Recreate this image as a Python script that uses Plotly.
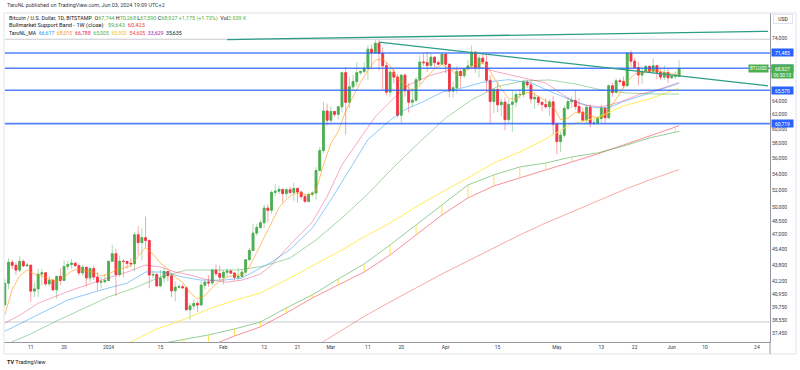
import math
import pandas as pd
import plotly.graph_objects as go

# ---------------- candle data (BTC/USD 1D, Bitstamp) ----------------
dates = pd.date_range("2023-12-04", "2024-06-03", freq="D").strftime("%Y-%m-%d").tolist()

open_ = [
    39970, 41990, 44080, 43770, 43290, 44170, 43720, 43790, 41240, 41450, 42890, 43020, 41940, 42280,
    41370, 42660, 42270, 43650, 43860, 43990, 43740, 43010, 43580, 42520, 43440, 42600, 42100, 42150,
    42270, 44180, 44960, 42850, 44180, 44160, 43970, 43930, 46970, 46130, 46660, 46350, 42800, 42850,
    41730, 42510, 43150, 42740, 41270, 41620, 41660, 41560, 39510, 39850, 40080, 39940, 41810, 42120,
    42030, 43300, 42940,
    42580, 43080, 43190, 42990, 42580, 42660, 43090, 44340, 45300, 47150, 47770, 48290, 49960, 49700,
    51800, 51940, 52160, 51660, 52120, 51780, 52280, 51840, 51300, 50740, 51570, 51730, 54480, 57050, 62500,
    61200, 62440, 62030, 63130, 68300, 63780, 66100, 66900, 68300, 68500, 69000, 72100, 71480, 73100,
    71400, 69400, 65300, 68390, 67600, 61900, 67900, 65500, 63800, 64100, 67200, 70000, 69900, 69450,
    70780, 69900, 69650,
    71300, 69650, 65460, 65960, 68500, 67840, 68900, 69360, 71620, 69150, 70630, 70000, 67100, 63900,
    65700, 63420, 63800, 61280, 63470, 63820, 64940, 64940, 66840, 66400, 64300, 64500, 63770, 63460,
    63120, 63840,
    60640, 58250, 59120, 62890, 63890, 64030, 63160, 62330, 61190, 63050, 60790, 60800, 61450, 62900,
    61550, 66260, 65240, 67030, 66930, 66280, 71450, 70140, 69120, 67930, 68520, 69290, 68510, 69400,
    68350, 67600, 68330,
    67500, 67750, 67744,
]
high = [
    42420, 44490, 44300, 44050, 44700, 44370, 44040, 43800, 42100, 43430, 43400, 43090, 42700, 42420,
    42750, 43480, 44280, 44230, 44390, 44000, 43960, 43800, 43600, 43690, 43800, 43130, 42600, 42900,
    44200, 45900, 45500, 44750, 44400, 44250, 44500, 47250, 47900, 47700, 48970, 46500, 43250, 43050,
    43300, 43550, 43200, 42900, 42180, 41880, 41890, 41650, 40120, 40500, 40300, 42200, 42200, 42800,
    43320, 43850, 43750,
    43250, 43480, 43380, 43100, 43530, 43350, 44370, 45580, 48200, 48150, 48580, 50350, 50400, 52050,
    52830, 52580, 52200, 52370, 52500, 52950, 52350, 52000, 51550, 51680, 51950, 54900, 57550, 63900, 63600,
    63200, 62450, 63250, 68500, 69200, 67650, 67950, 69950, 68600, 69950, 72800, 72900, 73650, 73780,
    72400, 70000, 68900, 68950, 68100, 68100, 68200, 66650, 65950, 67600, 71100, 71500, 71700, 71550,
    70950, 70300, 71350,
    71350, 69700, 66900, 69300, 68750, 69000, 70300, 72750, 71750, 71150, 71250, 71250, 67900, 65850,
    66850, 64350, 64500, 64100, 65450, 65350, 65700, 67200, 67200, 67100, 65300, 64800, 63900, 64400,
    64200, 64700,
    60850, 59600, 63300, 64500, 64650, 65500, 64400, 62990, 63300, 63450, 61450, 61800, 63450, 63100,
    66450, 66700, 67400, 67400, 67700, 71500, 71950, 70650, 70050, 69250, 69550, 69500, 70600, 69550,
    68900, 69500, 69000,
    67850, 68450, 70268,
]
low = [
    39700, 41430, 43400, 42800, 43080, 43580, 43590, 40230, 40680, 40700, 41800, 41700, 41700, 41250,
    40530, 41820, 42220, 43280, 43430, 43590, 42760, 42730, 41680, 42100, 42310, 41300, 41530, 41980,
    42200, 44150, 40750, 42630, 42600, 43430, 43600, 43200, 44800, 44300, 45600, 41500, 42450, 41700,
    41700, 42050, 42200, 40650, 40280, 41480, 41500, 39450, 38550, 39500, 39300, 39850, 41400, 41650,
    41800, 42700, 42300,
    41880, 42600, 42880, 42250, 42260, 42560, 42780, 44330, 45240, 46850, 47600, 47700, 48350, 49300,
    51320, 51600, 50650, 51200, 51600, 50800, 50600, 50950, 50550, 50600, 51300, 50900, 54450, 56700, 60400,
    60800, 61650, 61300, 62350, 59200, 62900, 65550, 66200, 67950, 68200, 67200, 68800, 71350, 68600,
    65600, 64800, 64600, 66600, 61550, 60800, 64600, 62300, 63100, 63800, 66500, 69300, 68400, 68950,
    69100, 69600, 69600,
    68200, 64550, 64500, 65100, 66000, 67450, 68800, 69050, 68250, 67550, 69600, 65300, 60800, 62200,
    62350, 61750, 59800, 60800, 59600, 63100, 64300, 64500, 65900, 63600, 62800, 63300, 62450, 62800,
    61800, 59200,
    56550, 56900, 58800, 62600, 62950, 62700, 62100, 60900, 60650, 60200, 60500, 60650, 60800, 60750,
    61350, 64600, 65100, 66600, 65850, 66100, 69150, 68900, 66300, 66600, 68500, 68250, 68250, 67250,
    67150, 67150, 66700,
    67300, 67300, 67590,
]
close = [
    41990, 44080, 43770, 43290, 44170, 43720, 43790, 41240, 41450, 42890, 43020, 41940, 42280, 41370,
    42660, 42270, 43650, 43860, 43990, 43740, 43010, 43580, 42520, 43440, 42600, 42100, 42150, 42270,
    44180, 44960, 42850, 44180, 44160, 43970, 43930, 46970, 46130, 46660, 46350, 42800, 42850, 41730,
    42510, 43150, 42740, 41270, 41620, 41660, 41560, 39510, 39850, 40080, 39940, 41810, 42120, 42030,
    43300, 42940, 42580,
    43080, 43190, 42990, 42580, 42660, 43090, 44340, 45300, 47150, 47770, 48290, 49960, 49700, 51800,
    51940, 52160, 51660, 52120, 51780, 52280, 51840, 51300, 50740, 51570, 51730, 54480, 57050, 62500, 61200,
    62440, 62030, 63130, 68300, 63780, 66100, 66900, 68300, 68500, 69000, 72100, 71480, 73100, 71400,
    69400, 65300, 68390, 67600, 61900, 67900, 65500, 63800, 64100, 67200, 70000, 69900, 69450, 70780,
    69900, 69650, 71300,
    69650, 65460, 65960, 68500, 67840, 68900, 69360, 71620, 69150, 70630, 70000, 67100, 63900, 65700,
    63420, 63800, 61280, 63470, 63820, 64940, 64940, 66840, 66400, 64300, 64500, 63770, 63460, 63120,
    63840, 60640,
    58250, 59120, 62890, 63890, 64030, 63160, 62330, 61190, 63050, 60790, 60800, 61450, 62900, 61550,
    66260, 65240, 67030, 66930, 66280, 71450, 70140, 69120, 67930, 68520, 69290, 68510, 69400, 68350,
    67600, 68330, 67500,
    67750, 67760, 68927,
]

# ---------------- indicator lines ----------------
ma_orange_dates = ["2023-12-04", "2023-12-06", "2023-12-08", "2023-12-10", "2023-12-12", "2023-12-14", "2023-12-16",
                   "2023-12-18", "2023-12-20", "2023-12-22", "2023-12-24", "2023-12-26", "2023-12-28", "2023-12-30",
                   "2024-01-01", "2024-01-03", "2024-01-05", "2024-01-07", "2024-01-09", "2024-01-11", "2024-01-13",
                   "2024-01-15", "2024-01-17", "2024-01-19", "2024-01-21", "2024-01-23", "2024-01-25", "2024-01-27",
                   "2024-01-29", "2024-01-31", "2024-02-02", "2024-02-04", "2024-02-06", "2024-02-08", "2024-02-10",
                   "2024-02-12", "2024-02-14", "2024-02-16", "2024-02-18", "2024-02-20", "2024-02-22", "2024-02-24",
                   "2024-02-26", "2024-02-28", "2024-03-01", "2024-03-03", "2024-03-05", "2024-03-07", "2024-03-09",
                   "2024-03-11", "2024-03-13", "2024-03-15", "2024-03-17", "2024-03-19", "2024-03-21", "2024-03-23",
                   "2024-03-25", "2024-03-27", "2024-03-29", "2024-03-31", "2024-04-02", "2024-04-04", "2024-04-06",
                   "2024-04-08", "2024-04-10", "2024-04-12", "2024-04-14", "2024-04-16", "2024-04-18", "2024-04-20",
                   "2024-04-22", "2024-04-24", "2024-04-26", "2024-04-28", "2024-04-30", "2024-05-02", "2024-05-04",
                   "2024-05-06", "2024-05-08", "2024-05-10", "2024-05-12", "2024-05-14", "2024-05-16", "2024-05-18",
                   "2024-05-20", "2024-05-22", "2024-05-24", "2024-05-26", "2024-05-28", "2024-05-30", "2024-06-01",
                   "2024-06-03"]
ma_orange = [39030, 41400, 42700, 43300, 42900, 42700, 42400, 42200, 42600, 43200, 43400, 43200, 43100, 42700,
             42900, 43300, 43500, 43700, 44700, 45600, 44900, 44000, 43400, 42600, 42100, 41100, 40500, 40800,
             41600, 42200, 42600, 42800, 42800, 43600, 45100, 46700, 48400, 50000, 51000, 51600, 51700, 51400,
             52000, 55200, 58000, 59600, 62500, 64600, 66800, 68600, 70300, 70500, 69400, 67300, 66500, 65500,
             66300, 67700, 68900, 69600, 68900, 68000, 68300, 69400, 69900, 69600, 67500, 65800, 64300, 64300,
             65100, 65300, 64700, 64000, 63200, 61300, 61500, 62300, 62200, 61800, 61500, 61900, 63400, 65100,
             66900, 68100, 68300, 68600, 68600, 68300, 68100, 68015]

ma_pink_dates = ["2023-12-04", "2023-12-08", "2023-12-13", "2023-12-21", "2023-12-30", "2024-01-06", "2024-01-11",
                 "2024-01-15", "2024-01-19", "2024-01-23", "2024-01-28", "2024-02-02", "2024-02-06", "2024-02-11",
                 "2024-02-14", "2024-02-19", "2024-02-25", "2024-02-29", "2024-03-04", "2024-03-09", "2024-03-13",
                 "2024-03-18", "2024-03-22", "2024-03-28", "2024-04-02", "2024-04-10", "2024-04-15", "2024-04-21",
                 "2024-04-28", "2024-05-04", "2024-05-08", "2024-05-13", "2024-05-18", "2024-05-23", "2024-05-29",
                 "2024-06-03"]
ma_pink = [38300, 39000, 40100, 41200, 42300, 43100, 43800, 43600, 43100, 42800, 42300, 42100, 42300, 42900,
           43800, 45900, 48400, 51300, 55200, 58700, 61700, 64400, 66400, 67900, 68700, 69200, 68400, 67600,
           66700, 64400, 63400, 63100, 63800, 64900, 65800, 66788]

ma_blue_dates = ["2023-12-04", "2023-12-06", "2023-12-12", "2023-12-21", "2023-12-30", "2024-01-06", "2024-01-11",
                 "2024-01-16", "2024-01-21", "2024-01-26", "2024-02-01", "2024-02-06", "2024-02-11", "2024-02-14",
                 "2024-02-19", "2024-02-25", "2024-03-01", "2024-03-06", "2024-03-11", "2024-03-17", "2024-03-21",
                 "2024-03-26", "2024-03-31", "2024-04-06", "2024-04-11", "2024-04-18", "2024-04-24", "2024-04-30",
                 "2024-05-06", "2024-05-11", "2024-05-15", "2024-05-19", "2024-05-26", "2024-06-03"]
ma_blue = [37600, 37900, 38900, 40400, 41350, 42000, 43100, 43100, 42600, 42300, 42300, 42500, 43500, 44100,
           45400, 47700, 50900, 54600, 58500, 61200, 62700, 63900, 65300, 66000, 66800, 67200, 66700, 65200,
           63900, 63000, 63000, 63900, 65200, 66617]

ma_green_dates = ["2023-12-04", "2023-12-11", "2023-12-18", "2023-12-25", "2024-01-01", "2024-01-08", "2024-01-15",
                  "2024-01-22", "2024-01-29", "2024-02-05", "2024-02-12", "2024-02-19", "2024-02-26", "2024-03-04",
                  "2024-03-11", "2024-03-18", "2024-03-25", "2024-04-01", "2024-04-08", "2024-04-15", "2024-04-22",
                  "2024-04-29", "2024-05-06", "2024-05-13", "2024-05-20", "2024-05-27", "2024-06-03"]
ma_green = [36420, 37360, 38490, 39580, 40690, 41540, 42610, 43300, 43300, 43300, 43700, 44520, 46410, 48830,
            51620, 54940, 58200, 61520, 64130, 66150, 67000, 67160, 66540, 65630, 65170, 65020, 65005]

ma_yellow_dates = ["2023-12-30", "2024-01-07", "2024-01-14", "2024-01-21", "2024-01-28", "2024-02-04", "2024-02-11",
                   "2024-02-18", "2024-02-25", "2024-03-03", "2024-03-10", "2024-03-17", "2024-03-24", "2024-03-31",
                   "2024-04-07", "2024-04-14", "2024-04-21", "2024-04-28", "2024-05-05", "2024-05-12", "2024-05-19",
                   "2024-05-26", "2024-06-03"]
ma_yellow = [35420, 36670, 37790, 38580, 39575, 40360, 41060, 42320, 43710, 45140, 46740, 48270, 50090, 51850,
             53560, 55440, 56870, 58600, 60670, 61590, 63250, 64280, 65903]

ma_red_dates = ["2024-02-25", "2024-03-03", "2024-03-10", "2024-03-17", "2024-03-24", "2024-03-31", "2024-04-07",
                "2024-04-14", "2024-04-21", "2024-04-28", "2024-05-05", "2024-05-12", "2024-05-19", "2024-05-26",
                "2024-06-03"]
ma_red = [36120, 37500, 38900, 40220, 41540, 42910, 44215, 45560, 46950, 48270, 49510, 50790, 52090, 53310, 54605]

bmsb_dates = ["2024-01-14", "2024-01-21", "2024-01-28", "2024-02-04", "2024-02-11", "2024-02-18", "2024-02-25",
              "2024-03-03", "2024-03-10", "2024-03-17", "2024-03-24", "2024-03-31", "2024-04-07", "2024-04-14",
              "2024-04-21", "2024-04-28", "2024-05-05", "2024-05-12", "2024-05-19", "2024-05-26", "2024-06-02",
              "2024-06-03"]
bmsb_sma = [36470, 36870, 37270, 37790, 38400, 39670, 40880, 42410, 43910, 45880, 48050, 50320, 52700, 53930,
            54940, 55440, 56220, 56740, 57660, 58740, 59570, 59643]
bmsb_ema = [35400, 35830, 36280, 37180, 37970, 39210, 40590, 41830, 43100, 44830, 46950, 49170, 51140, 52580,
            53560, 54555, 55570, 56610, 57800, 59010, 60250, 60423]

# drawings
levels = [71485, 68995, 65570, 60719]
fib_levels = [73780, 38400]
trend_up_dates = ["2024-02-02", "2024-06-27"]
trend_up = [73720, 75140]
trend_down_dates = ["2024-03-14", "2024-06-27"]
trend_down = [73300, 66250]

x_ticks = ["2023-12-11", "2023-12-20", "2024-01-01", "2024-01-15", "2024-02-01", "2024-02-12", "2024-02-21",
           "2024-03-01", "2024-03-11", "2024-03-20", "2024-04-01", "2024-04-15", "2024-05-01", "2024-05-13",
           "2024-05-22", "2024-06-01", "2024-06-10", "2024-06-24"]
x_ticktext = ["11", "20", "2024", "15", "Feb", "12", "21", "Mar", "11", "20", "Apr", "15", "May", "13", "22",
              "Jun", "10", "24"]
y_ticks = [74000, 64000, 62000, 60000, 58000, 56000, 54000, 52000, 50000, 48500, 47000, 45400, 43800, 42200,
           40950, 39750, 38550, 37450]

# ---------------- figure ----------------
W, H = 800, 370
ML, MR, MT, MB = 4, 30, 13, 28
PW, PH = W - ML - MR, H - MT - MB


def px(xp):
    return (xp - ML) / PW


def py(yp):
    return (H - MB - yp) / PH


UP, DN = "#4CAF50", "#F23645"
fig = go.Figure()

for lv in fib_levels:
    fig.add_trace(go.Scatter(x=[dates[0], "2024-06-30"], y=[lv, lv], mode="lines",
                             line=dict(color="#c9cbd1", width=1), hoverinfo="skip"))


def add_line(xs, ys, color, width=1.0):
    fig.add_trace(go.Scatter(x=xs, y=ys, mode="lines", line=dict(color=color, width=width),
                             hoverinfo="skip"))


add_line(ma_red_dates, ma_red, "rgba(244,67,54,0.45)")
add_line(bmsb_dates, bmsb_ema, "rgba(242,54,69,0.55)")
add_line(bmsb_dates, bmsb_sma, "rgba(76,175,80,0.6)")
tx, ty = [], []
for d, a, b in zip(bmsb_dates[:-1], bmsb_sma[:-1], bmsb_ema[:-1]):
    tx += [d, d, None]
    ty += [a, b, None]
fig.add_trace(go.Scatter(x=tx, y=ty, mode="lines", line=dict(color="rgba(253,216,53,0.8)", width=1),
                         hoverinfo="skip"))
add_line(ma_yellow_dates, ma_yellow, "rgba(255,235,59,0.85)")
add_line(ma_green_dates, ma_green, "rgba(76,175,80,0.5)")
add_line(ma_blue_dates, ma_blue, "rgba(33,150,243,0.5)")
add_line(ma_pink_dates, ma_pink, "rgba(233,30,99,0.38)")

fig.add_trace(go.Candlestick(
    x=dates, open=open_, high=high, low=low, close=close, whiskerwidth=0,
    increasing=dict(line=dict(color="rgba(76,175,80,0.45)", width=1), fillcolor="rgba(76,175,80,0.45)"),
    decreasing=dict(line=dict(color="rgba(242,54,69,0.45)", width=1), fillcolor="rgba(242,54,69,0.45)"),
    hoverinfo="skip"))
body_hi = [max(o, c) for o, c in zip(open_, close)]
body_lo = [min(o, c) for o, c in zip(open_, close)]
fig.add_trace(go.Candlestick(
    x=dates, open=open_, high=body_hi, low=body_lo, close=close, whiskerwidth=0,
    increasing=dict(line=dict(color=UP, width=0.8), fillcolor=UP),
    decreasing=dict(line=dict(color=DN, width=0.8), fillcolor=DN),
    hoverinfo="skip"))

add_line(ma_orange_dates, ma_orange, "rgba(255,152,0,0.6)")

for lv in levels:
    fig.add_trace(go.Scatter(x=[dates[0], "2024-06-30"], y=[lv, lv], mode="lines",
                             line=dict(color="rgba(41,98,255,0.8)", width=1.6), hoverinfo="skip"))
add_line(trend_up_dates, trend_up, "#2a9d84", 1.3)
add_line(trend_down_dates, trend_down, "#2a9d84", 1.3)

x0 = pd.Timestamp(dates[0]) - pd.Timedelta(hours=5.2)
x1 = pd.Timestamp(dates[0]) + pd.Timedelta(hours=206.53 * 24)
y_lo, y_hi = 36667, 78390

FONT = "Roboto, Noto Sans, sans-serif"
TXT = "#131722"

fig.update_layout(
    width=W, height=H, margin=dict(l=ML, r=MR, t=MT, b=MB),
    paper_bgcolor="white", plot_bgcolor="white", showlegend=False, hovermode=False,
    font=dict(family=FONT, size=5, color=TXT),
    xaxis=dict(type="date", range=[x0, x1], tickmode="array", tickvals=x_ticks, ticktext=x_ticktext,
               showgrid=False, zeroline=False, showline=True, linecolor="#9598a1", linewidth=1,
               ticks="", tickfont=dict(size=5, color="#363a45"), rangeslider=dict(visible=False)),
    yaxis=dict(type="log", side="right", range=[math.log10(y_lo), math.log10(y_hi)], tickmode="array",
               tickvals=y_ticks, ticktext=[f"{v:,}" for v in y_ticks], showgrid=False, zeroline=False,
               showline=True, linecolor="#9598a1", linewidth=1, ticks="",
               tickfont=dict(size=5, color="#363a45")),
)

shapes = [
    dict(type="line", xref="paper", yref="paper", x0=0, x1=px(796), y0=1, y1=1, line=dict(color="#e0e3eb", width=1)),
    dict(type="line", xref="paper", yref="paper", x0=0, x1=0, y0=py(354), y1=1, line=dict(color="#e0e3eb", width=1)),
    dict(type="line", xref="paper", yref="paper", x0=0, x1=px(796), y0=py(354), y1=py(354), line=dict(color="#e0e3eb", width=1)),
    dict(type="line", xref="paper", yref="paper", x0=px(796), x1=px(796), y0=py(354), y1=1, line=dict(color="#e0e3eb", width=1)),
    dict(type="line", xref="paper", yref="paper", x0=1, x1=1, y0=py(354), y1=0, line=dict(color="#9598a1", width=1)),
]
fig.update_layout(shapes=shapes)

ann = []
NB = "\u00a0"


def text(xp, yp, t, size=5, color=TXT, anchor="left"):
    ann.append(dict(xref="paper", yref="paper", x=px(xp), y=py(yp), text=t, showarrow=False,
                    xanchor=anchor, yanchor="middle", font=dict(size=size, color=color, family=FONT)))


def span(t, c):
    return f"<span style='color:{c}'>{t}</span>"


G = "#4CAF50"
text(5, 5, "TaroNL published on TradingView.com, Jun 03, 2024 19:09 UTC+2", 5.4, "#363a45")
line1 = ("Bitcoin / U.S. Dollar, 1D, BITSTAMP" + NB * 2 + "O" + span("67,744", G) + NB + "H" + span("70,268", G)
         + NB + "L" + span("67,590", G) + NB + "C" + span("68,927", G) + NB
         + span("+1,175 (+1.73%)", G) + NB * 2 + "Vol" + span("2.039 K", G))
text(7.3, 19, line1, 5.4)
line2 = ("Bullmarket Support Band - 1W (close)" + NB * 3 + span("59,643", G) + NB * 2 + span("60,423", DN))
text(7.3, 25.9, line2, 5.7)
ma_vals = ["66,617", "68,015", "66,788", "65,005", "65,903", "54,605", "33,629", "35,635"]
ma_cols = ["#2196F3", "#FF9800", "#E91E63", "#4CAF50", "#F5C518", "#F44336", "#9C27B0", "#131722"]
line3 = "TaroNL_MA" + "".join(NB * 2 + span(v, c) for v, c in zip(ma_vals, ma_cols))
text(7.3, 32.8, line3, 5.2)

for lv in levels:
    ann.append(dict(xref="paper", yref="y", x=px(771), y=math.log10(lv), text=f"{lv:,}", showarrow=False,
                    xanchor="left", yanchor="middle", bgcolor="#2962FF", width=21, height=7, borderpad=0,
                    font=dict(size=5, color="white", family=FONT)))
last = close[-1]
ann.append(dict(xref="paper", yref="y", x=px(771), y=math.log10(last), text=f"{last:,}", showarrow=False,
                xanchor="left", yanchor="middle", bgcolor=UP, width=21, height=7, borderpad=0,
                font=dict(size=5, color="white", family=FONT)))
ann.append(dict(xref="paper", yref="y", x=px(771), y=math.log10(last), yshift=-6.5, text="06:50:10",
                showarrow=False, xanchor="left", yanchor="middle", bgcolor=UP, width=21, height=6, borderpad=0,
                font=dict(size=4.5, color="white", family=FONT)))
ann.append(dict(xref="paper", yref="y", x=px(769), y=math.log10(last), text="BTCUSD", showarrow=False,
                xanchor="right", yanchor="middle", bgcolor=UP, width=19, height=7, borderpad=0,
                font=dict(size=4.5, color="white", family=FONT)))
ann.append(dict(xref="paper", yref="paper", x=px(783), y=py(19), text="USD", showarrow=False,
                xanchor="center", yanchor="middle", bgcolor="white", bordercolor="#e0e3eb", borderwidth=1,
                width=18, height=8, borderpad=0, font=dict(size=5, color=TXT, family=FONT)))
text(5, 362, "<b>TV</b> TradingView", 5.5, "#131722")

fig.update_layout(annotations=ann)
fig.write_html("out.html", config={"displayModeBar": False, "staticPlot": True},
               post_script="document.body.style.margin='0px';document.body.style.overflow='hidden';")
